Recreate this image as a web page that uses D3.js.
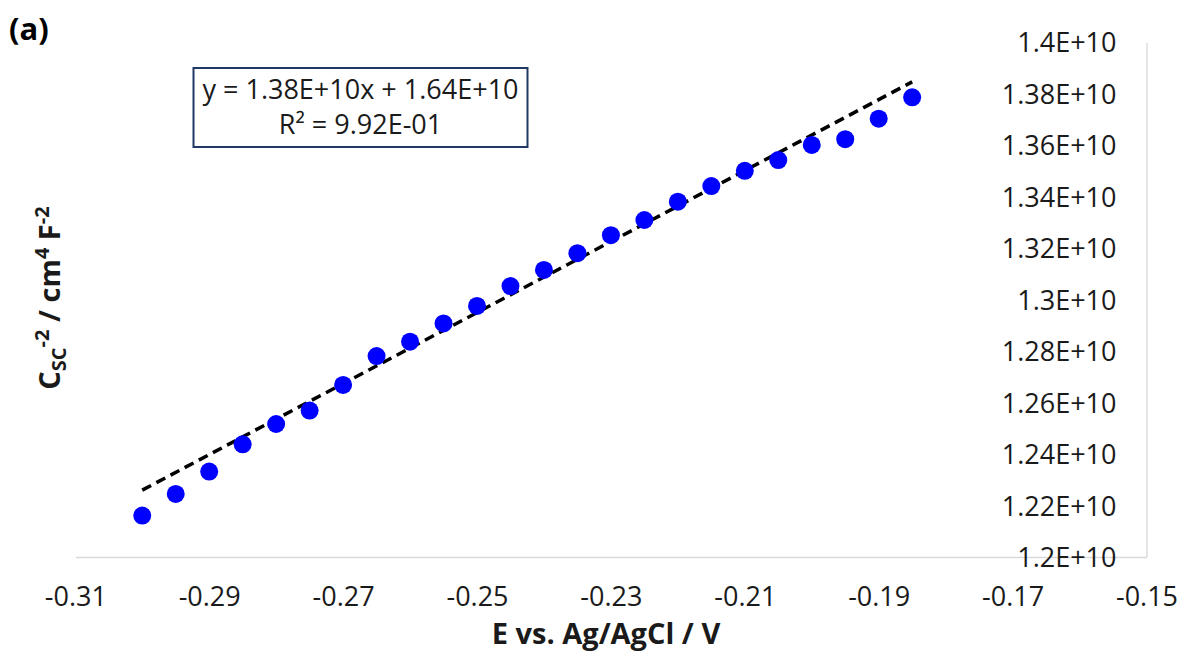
<!DOCTYPE html>
<html>
<head>
<meta charset="utf-8">
<script src="https://cdn.jsdelivr.net/npm/d3@7"></script>
<style>
  html, body { margin: 0; padding: 0; background: #fff; }
  svg { display: block; font-family: "Open Sans", "Noto Sans", sans-serif; }
</style>
</head>
<body>
<svg id="chart" width="1185" height="657"></svg>
<script>
// ---- data ----
const potentials = [-0.300, -0.295, -0.290, -0.285, -0.280, -0.275, -0.270, -0.265,
                    -0.260, -0.255, -0.250, -0.245, -0.240, -0.235, -0.230, -0.225,
                    -0.220, -0.215, -0.210, -0.205, -0.200, -0.195, -0.190, -0.185];
const invCapSq = [1.2161e10, 1.2245e10, 1.2332e10, 1.2438e10, 1.2517e10, 1.2569e10,
                  1.2669e10, 1.2781e10, 1.2837e10, 1.2908e10, 1.2976e10, 1.3053e10,
                  1.3116e10, 1.3181e10, 1.3251e10, 1.3310e10, 1.3381e10, 1.3442e10,
                  1.3501e10, 1.3543e10, 1.3602e10, 1.3624e10, 1.3704e10, 1.3787e10];
const xTicks = [-0.31, -0.29, -0.27, -0.25, -0.23, -0.21, -0.19, -0.17, -0.15];
const xTickLabels = ["-0.31", "-0.29", "-0.27", "-0.25", "-0.23", "-0.21", "-0.19", "-0.17", "-0.15"];
const yTicks = [1.20e10, 1.22e10, 1.24e10, 1.26e10, 1.28e10, 1.30e10, 1.32e10, 1.34e10, 1.36e10, 1.38e10, 1.40e10];
const yTickLabels = ["1.2E+10", "1.22E+10", "1.24E+10", "1.26E+10", "1.28E+10", "1.3E+10",
                     "1.32E+10", "1.34E+10", "1.36E+10", "1.38E+10", "1.4E+10"];
const trendSlope = 1.38e10;
const trendIntercept = 1.64e10;
const trendRange = [-0.300, -0.185];
const equationLines = ["y = 1.38E+10x + 1.64E+10", "R\u00B2 = 9.92E-01"];

// ---- layout ----
const svg = d3.select("#chart");
const plotLeft = 75.3, plotRight = 1146.5, plotTop = 42.5, plotBottom = 557;
const x = d3.scaleLinear().domain([-0.31, -0.15]).range([plotLeft, plotRight]);
const y = d3.scaleLinear().domain([1.2e10, 1.4e10]).range([plotBottom, plotTop]);

const axisColor = "#d9d9d9";
const textColor = "#1a1a1a";

// axis lines (bottom + right)
const xAxis = d3.axisBottom(x).tickValues(xTicks).tickSize(0)
  .tickFormat((d, i) => xTickLabels[i]);
const gx = svg.append("g").attr("transform", `translate(0,${plotBottom})`).call(xAxis);
gx.select(".domain").attr("stroke", axisColor).attr("stroke-width", 1.3);
gx.selectAll("text").attr("fill", textColor).attr("font-size", 27)
  .attr("font-family", "Open Sans").attr("dy", "0.35em").attr("y", 40);

const yAxis = d3.axisLeft(y).tickValues(yTicks).tickSize(0)
  .tickFormat((d, i) => yTickLabels[i]);
const gy = svg.append("g").attr("transform", `translate(${plotRight},0)`).call(yAxis);
gy.select(".domain").attr("stroke", axisColor).attr("stroke-width", 1.3);
gy.selectAll("text").attr("fill", textColor).attr("font-size", 27)
  .attr("font-family", "Open Sans").attr("x", -30).attr("dy", "0.35em");

// trend line
const trendPts = trendRange.map(v => [v, trendSlope * v + trendIntercept]);
svg.append("path")
  .attr("d", d3.line().x(d => x(d[0])).y(d => y(d[1]))(trendPts))
  .attr("stroke", "#000").attr("stroke-width", 3.5)
  .attr("stroke-dasharray", "10,6").attr("fill", "none");

// points
svg.append("g").selectAll("circle")
  .data(potentials.map((p, i) => [p, invCapSq[i]]))
  .join("circle")
  .attr("cx", d => x(d[0])).attr("cy", d => y(d[1]))
  .attr("r", 9).attr("fill", "#0000ff");

// equation box
svg.append("rect").attr("x", 193.5).attr("y", 68).attr("width", 334).attr("height", 79)
  .attr("fill", "#fff").attr("stroke", "#1f3864").attr("stroke-width", 2);
svg.append("g").selectAll("text").data(equationLines).join("text")
  .attr("x", 360.5).attr("y", (d, i) => 90 + i * 35).attr("dy", "0.35em")
  .attr("text-anchor", "middle").attr("font-size", 27).attr("fill", textColor)
  .text(d => d);

// panel label
svg.append("text").attr("x", 9).attr("y", 40).attr("font-size", 31)
  .attr("font-weight", "bold").attr("fill", "#000").text("(a)");

// x title
svg.append("text").attr("x", 606).attr("y", 644).attr("text-anchor", "middle")
  .attr("font-size", 29).attr("font-weight", "bold").attr("fill", textColor)
  .text("E vs. Ag/AgCl / V");

// y title
const yt = svg.append("text")
  .attr("transform", "translate(60,298) rotate(-90)")
  .attr("text-anchor", "middle").attr("font-size", 29).attr("font-weight", "bold")
  .attr("fill", textColor);
yt.append("tspan").text("C");
yt.append("tspan").attr("font-size", 20).attr("dy", 6).text("SC");
yt.append("tspan").attr("font-size", 20).attr("dy", -17).text("-2");
yt.append("tspan").attr("dy", 11).text(" / cm");
yt.append("tspan").attr("font-size", 20).attr("dy", -11).text("4");
yt.append("tspan").attr("dy", 11).text(" F");
yt.append("tspan").attr("font-size", 20).attr("dy", -11).text("-2");
</script>
</body>
</html>
